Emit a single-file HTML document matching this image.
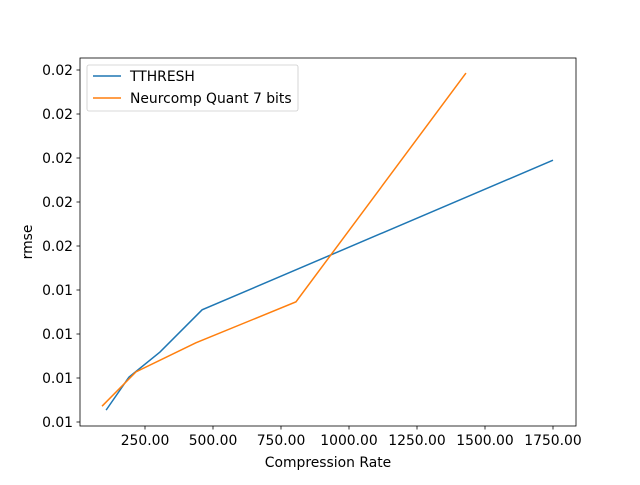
<!DOCTYPE html>
<html><head><meta charset="utf-8"><style>
body{margin:0;background:#fff;}
svg text{font-family:"DejaVu Sans","Liberation Sans",sans-serif;font-size:13.9px;fill:#000;}
</style></head><body>
<svg id="chart" width="640" height="480" xmlns="http://www.w3.org/2000/svg">
<rect width="640" height="480" fill="#fff"/>
<g id="plot"></g>
</svg>
<script>
const xTicks = [250, 500, 750, 1000, 1250, 1500, 1750];
const xTickLabels = ["250.00","500.00","750.00","1000.00","1250.00","1500.00","1750.00"];
const yTicks = [0.011,0.012,0.013,0.014,0.015,0.016,0.017,0.018,0.019];
const yTickLabels = ["0.01","0.01","0.01","0.01","0.02","0.02","0.02","0.02","0.02"];
const tthreshX = [107, 191, 305, 460, 1750];
const tthreshY = [0.01127, 0.01202, 0.01259, 0.01355, 0.01695];
const neurX = [92, 217, 437, 805, 1430];
const neurY = [0.01136, 0.01214, 0.01280, 0.01373, 0.01893];

const L=80,R=576,T=58,B=426;
const sx = v => 77 + v*0.272;
const sy = v => 422 - (v-0.011)*44000;
const NS="http://www.w3.org/2000/svg";
const g=document.getElementById('plot');
function mk(t,a,p){const e=document.createElementNS(NS,t);for(const k in a)e.setAttribute(k,a[k]);(p||g).appendChild(e);return e;}

function line(xs,ys,color,name){
  const e=mk('polyline',{points:xs.map((x,i)=>sx(x)+','+sy(ys[i])).join(' '),fill:'none',stroke:color,'stroke-width':1.5});
  
  
}
line(tthreshX,tthreshY,'#1f77b4','tthresh-line');
line(neurX,neurY,'#ff7f0e','neurcomp-line');

const fr=mk('rect',{x:L,y:T,width:R-L,height:B-T,fill:'none',stroke:'#000','stroke-width':0.8});



xTicks.forEach((v,i)=>{
  const x=sx(v);
  mk('line',{x1:x,x2:x,y1:B,y2:B+3.5,stroke:'#000','stroke-width':0.8});
  const t=mk('text',{x:x,y:B+19,'text-anchor':'middle'});t.textContent=xTickLabels[i];
  
  
});
yTicks.forEach((v,i)=>{
  const y=sy(v);
  mk('line',{x1:L-3.5,x2:L,y1:y,y2:y,stroke:'#000','stroke-width':0.8});
  const t=mk('text',{x:L-7,y:y+5,'text-anchor':'end'});t.textContent=yTickLabels[i];
  
  
});
const xt=mk('text',{x:328,y:467,'text-anchor':'middle'});xt.textContent='Compression Rate';


const yt=mk('text',{x:32,y:242,'text-anchor':'middle',transform:'rotate(-90 32 242)'});yt.textContent='rmse';



const lg=mk('g',{});


mk('rect',{x:87,y:65,width:211,height:46,rx:2,fill:'#fff',stroke:'#ccc','stroke-width':0.8},lg);
[['TTHRESH','#1f77b4',76],['Neurcomp Quant 7 bits','#ff7f0e',98]].forEach(([n,c,y])=>{
  mk('line',{x1:93,x2:121,y1:y,y2:y,stroke:c,'stroke-width':1.5},lg);
  const t=mk('text',{x:130,y:y+5},lg);t.textContent=n;
  
  
});
</script>
</body></html>
